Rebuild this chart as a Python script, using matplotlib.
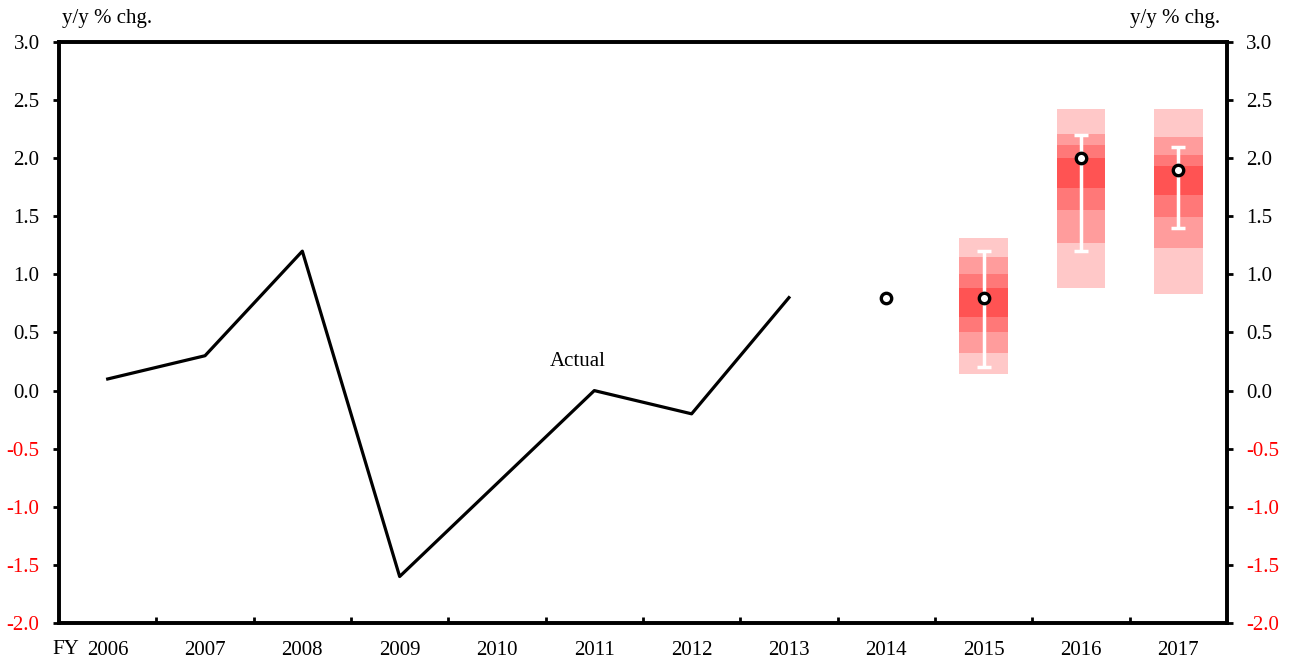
import matplotlib
matplotlib.use("Agg")
import matplotlib.pyplot as plt
import numpy as np

plt.rcParams['font.family'] = ['Liberation Serif', 'DejaVu Serif']

years = ['2006', '2007', '2008', '2009', '2010', '2011', '2012', '2013',
         '2014', '2015', '2016', '2017']
actual = [0.1, 0.3, 1.2, -1.6, -0.8, 0.0, -0.2, 0.8]
est_2014 = 0.8

fan_years = ['2015', '2016', '2017']
median = [0.8, 2.0, 1.9]
err_low = [0.2, 1.2, 1.4]
err_high = [1.2, 2.2, 2.1]
# band boundaries from bottom to top (8 edges -> 7 bands)
fan_edges = [
    [0.14, 0.32, 0.50, 0.63, 0.88, 1.00, 1.15, 1.31],
    [0.88, 1.27, 1.55, 1.74, 2.00, 2.11, 2.21, 2.42],
    [0.83, 1.23, 1.49, 1.68, 1.93, 2.03, 2.18, 2.42],
]
band_colors = ['#FFC8C8', '#FF9C9C', '#FF7878', '#FF5353',
               '#FF7878', '#FF9C9C', '#FFC8C8']

FS = 15

fig = plt.figure(figsize=(12.89, 6.62), dpi=100)
ax = fig.add_axes([0.0458, 0.0589, 0.906, 0.8777])

x = np.arange(len(years))
xa = x[:len(actual)]
ax.plot(xa, actual, color='black', lw=2.3, zorder=3)

idx = {y: i for i, y in enumerate(years)}
for j, fy in enumerate(fan_years):
    xi = idx[fy]
    edges = fan_edges[j]
    for k in range(len(edges) - 1):
        ax.bar(xi, edges[k + 1] - edges[k], bottom=edges[k], width=0.5,
               color=band_colors[k], edgecolor='none', zorder=2)
    ax.errorbar(xi, median[j],
                yerr=[[median[j] - err_low[j]], [err_high[j] - median[j]]],
                fmt='none', ecolor='white', elinewidth=2.5, capsize=5,
                capthick=2.5, zorder=4)
    ax.plot(xi, median[j], 'o', ms=7.5, mfc='white', mec='black', mew=2.4,
            zorder=5)

ax.plot(idx['2014'], est_2014, 'o', ms=7.5, mfc='white', mec='black', mew=2.4,
        zorder=5)

ax.text(4.83, 0.25, 'Actual', ha='center', va='center', fontsize=FS)

ax.set_xlim(-0.5, len(years) - 0.5)
ax.set_ylim(-2.0, 3.0)
yt = np.arange(-2.0, 3.01, 0.5)
ax.set_yticks(yt)
ax.set_yticklabels([f'{v:.1f}' for v in yt])
for lab, v in zip(ax.get_yticklabels(), yt):
    lab.set_color('red' if v < 0 else 'black')

ax.set_xticks(x)
ax.set_xticklabels(years)
ax.set_xticks(np.arange(0.5, len(years) - 0.5, 1.0), minor=True)
ax.tick_params(axis='x', which='major', length=0, labelsize=FS, pad=13)
ax.tick_params(axis='x', which='minor', direction='in', length=4, width=2)
ax.tick_params(axis='y', direction='out', length=4, width=2, labelsize=FS,
               pad=10)

ax2 = ax.twinx()
ax2.set_ylim(ax.get_ylim())
ax2.set_yticks(yt)
ax2.set_yticklabels([f'{v:.1f}' for v in yt])
for lab, v in zip(ax2.get_yticklabels(), yt):
    lab.set_color('red' if v < 0 else 'black')
ax2.tick_params(axis='y', direction='out', length=4, width=2, labelsize=FS,
                pad=10)

for a in (ax, ax2):
    for s in a.spines.values():
        s.set_linewidth(2.6)

fig.text(62 / 1289, 1 - 18 / 662, 'y/y % chg.', ha='left', va='center',
         fontsize=FS)
fig.text(1220 / 1289, 1 - 18 / 662, 'y/y % chg.', ha='right', va='center',
         fontsize=FS)
fig.text(52 / 1289, 1 - 650 / 662, 'FY', ha='left', va='center', fontsize=FS)

fig.savefig('out.png', dpi=100)
